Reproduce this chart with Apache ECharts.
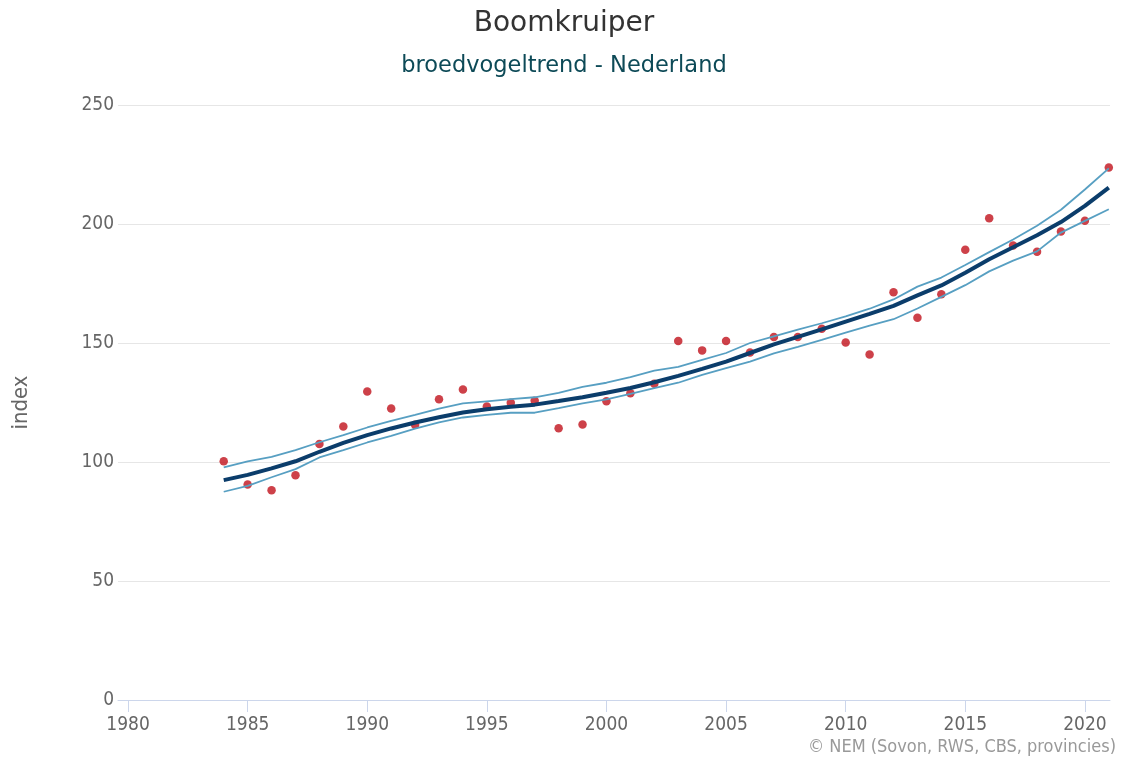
<!DOCTYPE html>
<html>
<head>
<meta charset="utf-8">
<script src="https://cdn.jsdelivr.net/npm/echarts@6/dist/echarts.min.js"></script>
<style>
html,body{margin:0;padding:0;background:#fff;}
#chart{width:1128px;height:764px;}
</style>
</head>
<body>
<div id="chart"></div>
<script>
var years = [1984,1985,1986,1987,1988,1989,1990,1991,1992,1993,1994,1995,1996,1997,1998,1999,2000,2001,2002,2003,2004,2005,2006,2007,2008,2009,2010,2011,2012,2013,2014,2015,2016,2017,2018,2019,2020,2021];
var indexValues = [100.3,90.5,88.1,94.4,107.6,114.9,129.6,122.5,115.6,126.4,130.5,123.3,124.9,125.7,114.2,115.8,125.5,128.9,132.9,150.8,146.9,150.8,146.0,152.5,152.5,156.0,150.2,145.2,171.3,160.6,170.5,189.2,202.4,191.0,188.3,196.8,201.4,223.7];
var trendValues = [92.4,94.6,97.3,100.3,104.3,108.0,111.3,114.1,116.6,118.8,120.8,122.2,123.2,124.1,125.6,127.2,129.1,131.1,133.5,136.2,139.1,142.2,145.8,149.4,152.6,155.7,159.0,162.2,165.6,170.0,174.2,179.5,185.2,190.2,195.3,200.8,207.6,215.3];
var upperValues = [97.7,100.3,102.2,105.0,108.3,111.3,114.5,117.3,119.8,122.4,124.6,125.5,126.4,127.2,129.0,131.6,133.3,135.7,138.4,140.0,142.9,145.8,150.0,152.8,155.6,158.3,161.2,164.4,168.3,173.7,177.5,182.8,188.2,193.5,199.3,206.0,214.5,223.4];
var lowerValues = [87.5,90.0,93.6,97.0,101.9,105.0,108.2,111.0,114.0,116.6,118.7,119.8,120.7,120.7,122.6,124.6,126.3,128.6,131.0,133.3,136.6,139.4,142.2,145.6,148.4,151.3,154.4,157.3,160.0,164.5,169.4,174.3,180.1,184.6,188.5,196.4,201.3,206.2];
var xTicks = [1980,1985,1990,1995,2000,2005,2010,2015,2020];
var titleText = 'Boomkruiper';
var subtitleText = 'broedvogeltrend - Nederland';
var yAxisName = 'index';
var creditText = '\u00A9 NEM (Sovon, RWS, CBS, provincies)';

function pairs(vals){ return years.map(function(y,i){ return [y, vals[i]]; }); }

var FONT = "'DejaVu Sans Condensed', 'DejaVu Sans', sans-serif";
var FONT_R = "'DejaVu Sans', sans-serif";
var chart = echarts.init(document.getElementById('chart'), null, {renderer:'canvas'});
chart.setOption({
  animation:false,
  backgroundColor:'#ffffff',
  title:[
    {text:titleText, left:'center', top:5, textStyle:{fontFamily:FONT_R, fontSize:28, fontWeight:'normal', color:'#333333'}},
    {text:subtitleText, left:'center', top:50, textStyle:{fontFamily:FONT_R, fontSize:22.5, fontWeight:'normal', color:'#0d4a57'}},
    {text:creditText, right:7, bottom:3, textStyle:{fontFamily:FONT, fontSize:18, fontWeight:'normal', color:'#999999'}}
  ],
  grid:{left:118, right:18, top:105, bottom:64, containLabel:false},
  xAxis:{
    type:'value', min:1979.58, max:2021.05,
    axisLine:{show:true, lineStyle:{color:'#ccd6eb', width:1}},
    axisTick:{show:true, length:12, customValues:xTicks, lineStyle:{color:'#ccd6eb'}},
    axisLabel:{customValues:xTicks, margin:16, fontFamily:FONT, fontSize:19, color:'#666666', formatter:function(v){return String(Math.round(v));}},
    splitLine:{show:false}
  },
  yAxis:{
    type:'value', min:0, max:250, interval:50,
    name:yAxisName, nameLocation:'middle', nameGap:86, nameRotate:90,
    nameTextStyle:{fontFamily:FONT, fontSize:22, color:'#666666'},
    axisLine:{show:false}, axisTick:{show:false},
    axisLabel:{margin:4, fontFamily:FONT, fontSize:19, color:'#666666'},
    splitLine:{lineStyle:{color:'#e6e6e6', width:1}}
  },
  series:[
    {type:'scatter', name:'index', data:pairs(indexValues), symbol:'circle', symbolSize:8.5, itemStyle:{color:'#c0121b'}, z:2},
    {type:'line', name:'lower', data:pairs(lowerValues), showSymbol:false, lineStyle:{color:'#579fc2', width:1.8}, z:3},
    {type:'line', name:'upper', data:pairs(upperValues), showSymbol:false, lineStyle:{color:'#579fc2', width:1.8}, z:3},
    {type:'line', name:'trend', data:pairs(trendValues), showSymbol:false, lineStyle:{color:'#0b3d6b', width:4}, z:4}
  ]
});
</script>
</body>
</html>
